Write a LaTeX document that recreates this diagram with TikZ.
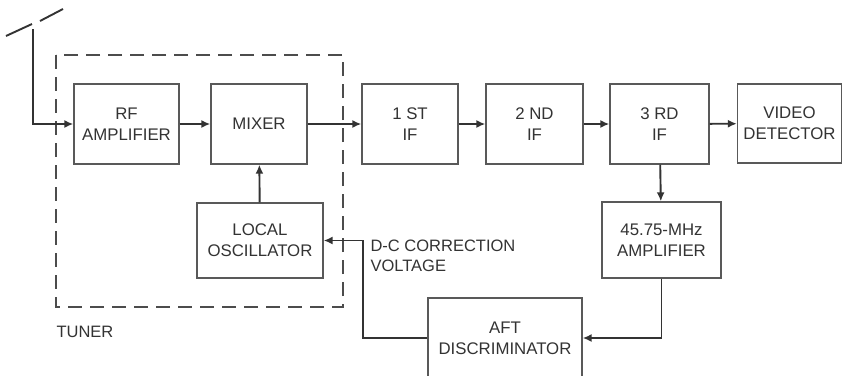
\documentclass[tikz,border=0pt]{standalone}
\usepackage{fontspec}
\setmainfont{Liberation Sans}
\usepackage{xcolor}
\usetikzlibrary{arrows.meta}

\tikzset{
  block/.style={draw=black!65, line width=1.3pt, align=center, text=black!80,
    font=\fontsize{16.8}{21}\selectfont, inner sep=0pt},
  conn/.style={draw=black!80, line width=1.9pt, -{Latex[length=9pt,width=8pt]}},
  label/.style={align=left, text=black!80, font=\fontsize{16.5}{20}\selectfont}
}

\begin{document}
\begin{tikzpicture}[x=1pt, y=-1pt]
        \clip (0,0) rectangle (843,375);
        \fill[white] (0,0) rectangle (843,375);

        % Tuner outline
        \draw[black!70, line width=1.4pt, dash pattern=on 14pt off 8pt] (56,55) rectangle (343,307);
        \node[label, anchor=west] (tuner) at (53,332) {TUNER};

        % Blocks
        \node[block, minimum width=105pt, minimum height=80pt] (rf) at (126.5,124) {RF\\AMPLIFIER};
        \node[block, minimum width=96pt, minimum height=80pt] (mixer) at (259,124) {MIXER};
        \node[block, minimum width=126pt, minimum height=75pt] (lo) at (260,240.5) {LOCAL\\OSCILLATOR};
        \node[block, minimum width=96pt, minimum height=80pt] (if1) at (410,124) {1 ST\\IF};
        \node[block, minimum width=97pt, minimum height=80pt] (if2) at (534.5,124) {2 ND\\IF};
        \node[block, minimum width=99pt, minimum height=80pt] (if3) at (659.5,124) {3 RD\\IF};
        \node[block, minimum width=104pt, minimum height=79pt] (video) at (789.5,123.5) {VIDEO\\DETECTOR};
        \node[block, minimum width=119pt, minimum height=76pt] (amp) at (661.5,240) {45.75-MHz\\AMPLIFIER};
        \node[block, minimum width=154pt, minimum height=80pt] (aft) at (505,338) {AFT\\DISCRIMINATOR};

        % Antenna
        \coordinate (ant) at (33,29);
        \draw[black!80, line width=1.9pt] (6,36) -- (32,24);
        \draw[black!80, line width=1.9pt] (40,21) -- (63,9);
        \draw[conn] (ant) |- (rf.west);

        % Signal path
        \draw[conn] (rf) -- (mixer);
        \draw[conn] (mixer) -- (if1);
        \draw[conn] (if1) -- (if2);
        \draw[conn] (if2) -- (if3);
        \draw[conn] (if3) -- (video);
        \draw[conn] (lo) -- (mixer);
        \draw[conn] (if3) -- (amp);

        % AFT loop
        \coordinate (corr) at (363,0);
        \draw[conn] (amp.south) |- (aft.east);
        \draw[conn] (aft.west) -| (corr |- lo.east) -- (lo.east);
        \node[label, anchor=west] (dc) at (367,256) {D-C CORRECTION\\VOLTAGE};
    \end{tikzpicture}
\end{document}
